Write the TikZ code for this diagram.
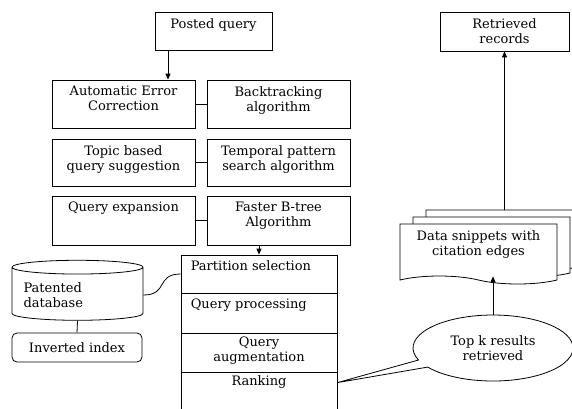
\documentclass[tikz,border=0pt]{standalone}
\usepackage{fontspec}
\setmainfont{DejaVu Serif}
\usetikzlibrary{arrows.meta, shapes.geometric, shapes.symbols, shapes.callouts, shadows, calc}
\tikzset{
  blk/.style={draw, line width=0.8pt, minimum width=143pt, minimum height=48pt, inner sep=0pt},
  toptxt/.style={anchor=north, align=center, inner sep=6.5pt},
  lefttxt/.style={anchor=north west, align=left, inner sep=6pt, xshift=4pt},
  stk/.style={draw, line width=0.8pt, minimum width=156pt, inner sep=0pt},
  arr/.style={-{Triangle[length=6pt,width=5pt]}, line width=0.8pt},
  lnk/.style={line width=0.8pt},
}
\begin{document}
\begin{tikzpicture}[x=1pt, y=-1pt, font=\fontsize{13}{15}\selectfont]
  \clip (0,0) rectangle (572,408);
  % query side
  \node[blk, minimum width=117pt, minimum height=38pt,
    label={[toptxt]north:Posted query}] (posted) at (213.5,31) {};

  \node[blk, label={[toptxt]north:Automatic Error\\Correction}] (aec) at (123.5,104) {};
  \node[blk, label={[toptxt]north:Backtracking\\algorithm}] (bt) at (278.5,104) {};
  \node[blk, minimum height=47pt, label={[toptxt]north:Topic based\\query suggestion}] (tbq) at (123.5,162.5) {};
  \node[blk, minimum height=47pt, label={[toptxt]north:Temporal pattern\\search algorithm}] (tps) at (278.5,162.5) {};
  \node[blk, minimum height=49pt, label={[toptxt]north:Query expansion}] (qe) at (123.5,220.5) {};
  \node[blk, minimum height=49pt, label={[toptxt]north:Faster B-tree\\Algorithm}] (fbt) at (278.5,220.5) {};

  % processing stack
  \node[stk, minimum height=38pt, label={[lefttxt]north west:Partition selection}] (part) at (259,274) {};
  \node[stk, minimum height=40pt, label={[lefttxt]north west:Query processing}] (proc) at (259,313) {};
  \node[stk, minimum height=39pt, label={[toptxt, inner sep=4pt]north:Query\\augmentation}] (aug) at (259,352.5) {};
  \node[stk, minimum height=43pt, label={[toptxt, inner sep=4pt]north:Ranking}] (rank) at (259,393.5) {};

  % storage
  \node[draw, line width=0.8pt, cylinder, shape border rotate=90, aspect=0.12,
    minimum width=131pt, minimum height=60pt, align=left, text width=108pt] (pdb) at (77.5,295)
    {Patented\\database};
  \node[draw, line width=0.8pt, rounded corners=5pt, minimum width=130pt, minimum height=29pt] (inv)
    at (77,347.5) {Inverted index};

  % result side
  \node[blk, minimum width=129pt, minimum height=39pt, align=center] (recs) at (504.5,31.5)
    {Retrieved\\records};
  \node[draw, line width=0.8pt, fill=white, tape, tape bend top=none, tape bend bottom=out and in,
    tape bend height=8pt, minimum width=157pt, minimum height=60pt,
    double copy shadow={shadow xshift=13pt, shadow yshift=7pt, draw, fill=white, line width=0.8pt},
    label={[toptxt, inner sep=4pt, yshift=-3pt]north:Data snippets with\\citation edges}] (docs) at (478.5,250) {};
  \node[draw, line width=0.8pt, ellipse callout, callout pointer arc=14,
    callout absolute pointer={($(rank.north east)+(0,11)$)},
    minimum width=160pt, minimum height=66pt, align=center] (topk) at (493,348)
    {Top k results\\retrieved};

  % connectors
  \draw[arr] ([xshift=-45.5pt]posted.south) -- ([xshift=-45.5pt]posted.south |- aec.north);
  \draw[lnk] (aec) -- (bt);
  \draw[lnk] (tbq) -- (tps);
  \draw[lnk] (qe) -- (fbt);
  \draw[arr] (fbt.south -| part.north) -- (part.north);
  \draw[lnk] (pdb.east) .. controls +(25,0) and +(-25,0) .. (part.west);
  \draw[lnk] (pdb.south) -- (inv.north);
  \draw[arr] (topk.north) -- (topk.north |- docs.south);
  \draw[arr] ([yshift=14pt]docs.north -| recs.south) -- (recs.south);
\end{tikzpicture}
\end{document}
